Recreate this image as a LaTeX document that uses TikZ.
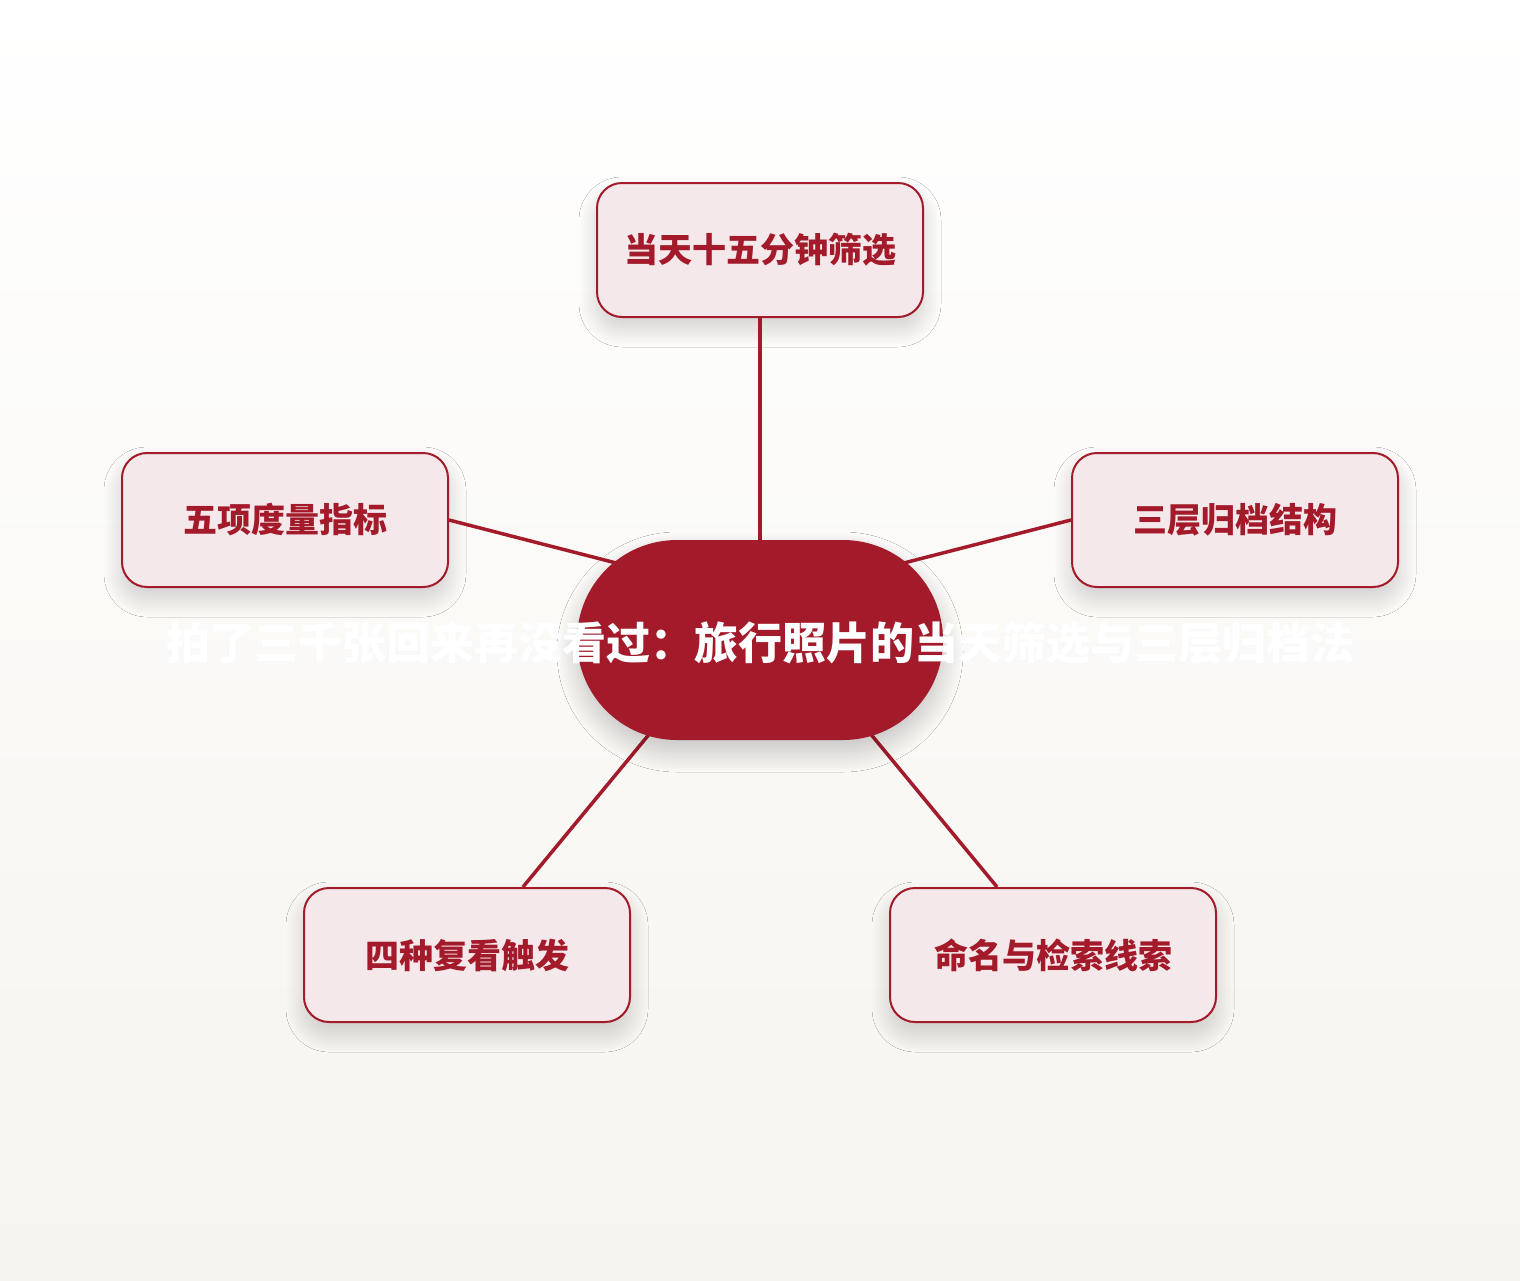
\documentclass[tikz,border=0pt]{standalone}
\usepackage{fontspec}
\setmainfont{Noto Sans CJK SC}
\usetikzlibrary{shapes.misc,shadows.blur}
\definecolor{berry}{HTML}{A31A2A}
\definecolor{blush}{HTML}{F5E8EA}
\definecolor{paper}{HTML}{F6F4EF}
\begin{document}
\begin{tikzpicture}[x=1pt,y=-1pt,
  topic/.style={draw=berry,line width=2pt,fill=blush,rounded corners=25pt,
    minimum width=326pt,minimum height=134pt,text=berry,
    font=\fontsize{34}{40}\selectfont\bfseries,
    blur shadow={shadow xshift=0pt,shadow yshift=-12pt,shadow blur radius=18pt,
      shadow blur steps=30,shadow opacity=18}},
  hubshape/.style={rounded rectangle,fill=berry,minimum width=366pt,minimum height=200pt,inner sep=0pt,
    blur shadow={shadow xshift=0pt,shadow yshift=-12pt,shadow blur radius=20pt,
      shadow blur steps=30,shadow opacity=22}},
  link/.style={draw=berry,line width=3.5pt}]
\fill[top color=white,bottom color=paper] (0,0) rectangle (1520,1280);
\node[topic] (t) at (760,250) {当天十五分钟筛选};
\node[topic] (l) at (285,520) {五项度量指标};
\node[topic] (r) at (1235,520) {三层归档结构};
\node[topic] (bl) at (467,955) {四种复看触发};
\node[topic] (br) at (1053,955) {命名与检索线索};
\coordinate (hc) at (760,600);
\draw[link] (t) -- (hc);
\draw[link] (l.east) -- (hc);
\draw[link] (r.west) -- (hc);
\draw[link] (bl) -- (hc);
\draw[link] (br) -- (hc);
\node[hubshape] (hub) at (760,640) {};
\node[text=white,font=\fontsize{44}{50}\selectfont\bfseries] (title) at (760,643) {拍了三千张回来再没看过：旅行照片的当天筛选与三层归档法};
\end{tikzpicture}
\end{document}
